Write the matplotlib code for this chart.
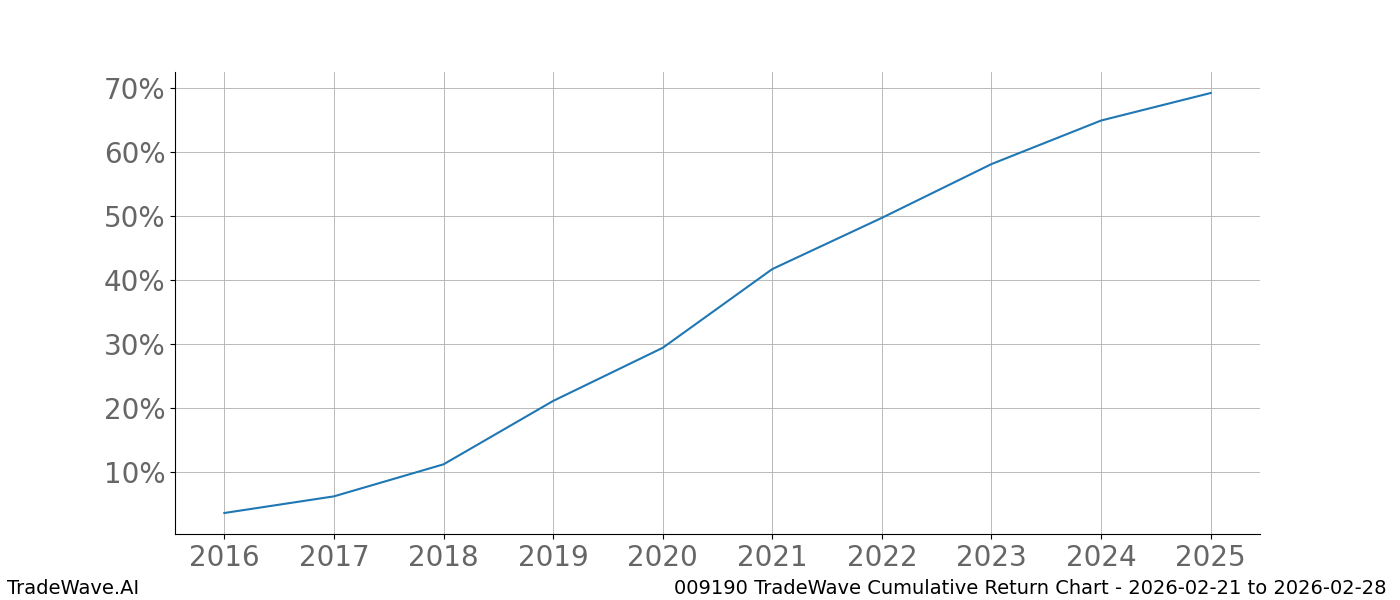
import matplotlib
matplotlib.use("Agg")
import matplotlib.pyplot as plt
from matplotlib.ticker import FuncFormatter

years = [2016, 2017, 2018, 2019, 2020, 2021, 2022, 2023, 2024, 2025]
returns = [3.6, 6.2, 11.2, 21.1, 29.4, 41.7, 49.7, 58.1, 64.9, 69.2]
left_footer = "TradeWave.AI"
right_footer = "009190 TradeWave Cumulative Return Chart - 2026-02-21 to 2026-02-28"

fig, ax = plt.subplots(figsize=(14, 6), dpi=100)
fig.subplots_adjust(left=0.125, right=0.9, bottom=0.11, top=0.88)
ax.plot(years, returns, color="#1f77b4", linewidth=1.5)
ax.set_xticks(years)
ax.set_yticks([10, 20, 30, 40, 50, 60, 70])
ax.yaxis.set_major_formatter(FuncFormatter(lambda v, p: f"{int(v)}%"))
ax.tick_params(axis="both", labelsize=20, labelcolor="#666666")
ax.grid(True, color="#b0b0b0", linewidth=0.6)
ax.spines["top"].set_visible(False)
ax.spines["right"].set_visible(False)
fig.text(0.005, 0.003, left_footer, fontsize=14, ha="left", va="bottom")
fig.text(0.99, 0.003, right_footer, fontsize=14, ha="right", va="bottom")
fig.savefig("out.png")
